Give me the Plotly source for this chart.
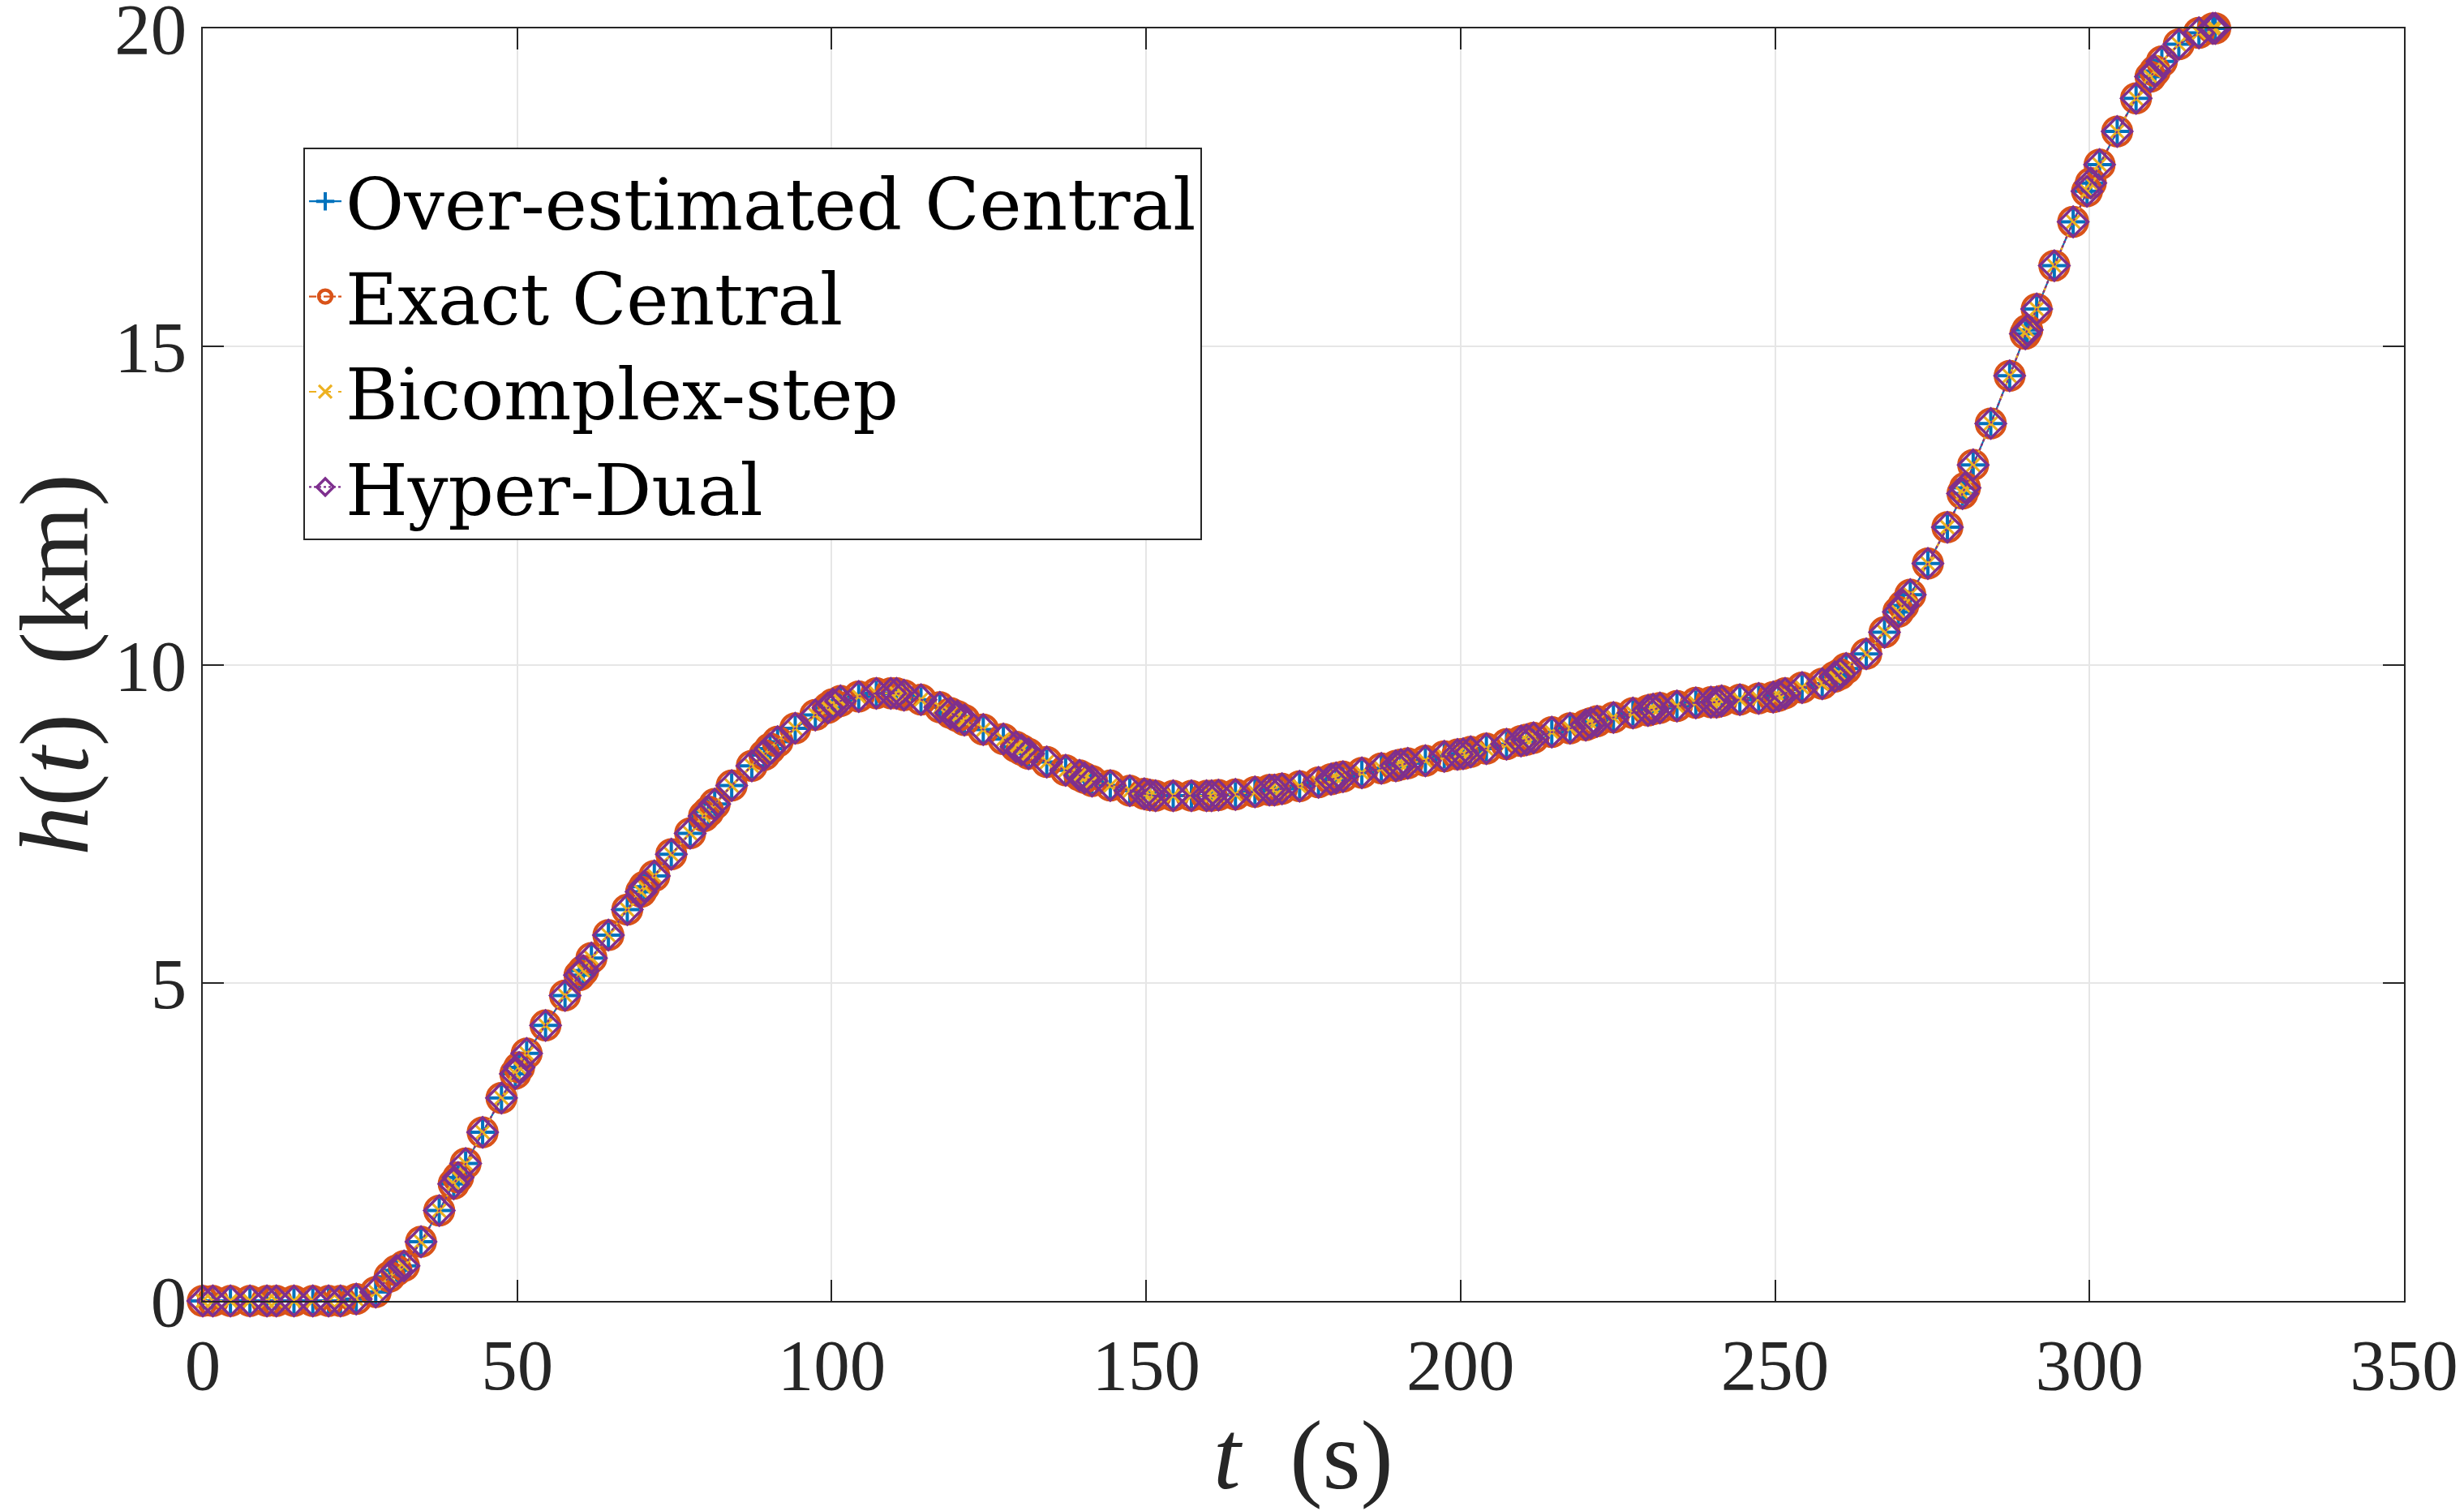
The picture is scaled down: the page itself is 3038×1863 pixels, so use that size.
import plotly.graph_objects as go

t_s = [0, 1.6, 4.4, 7.5, 10.2, 11.7, 14.5, 17.5, 20.0, 21.9,
       24.4, 27.5, 29.7, 30.8, 32.0, 34.7, 37.6, 39.9, 40.6, 41.8,
       44.5, 47.5, 49.7, 50.3, 51.5, 54.5, 57.6, 59.9, 60.5, 61.8,
       64.5, 67.5, 69.7, 70.2, 71.8, 74.5, 77.5, 79.7, 80.4, 81.4,
       84.1, 87.3, 89.3, 90.2, 91.4, 94.2, 97.4, 99.4, 100.2, 101.4,
       104.3, 107.1, 109.4, 110.3, 111.5, 114.2, 117.2, 118.9, 120.0, 121.1,
       124.1, 127.3, 129.3, 130.2, 131.3, 134.2, 137.2, 139.4, 140.2, 141.4,
       144.3, 147.4, 149.7, 150.6, 151.5, 154.3, 157.2, 159.6, 160.4, 161.5,
       164.2, 167.3, 169.6, 170.4, 171.6, 174.4, 177.4, 179.4, 180.2, 181.3,
       184.3, 187.4, 189.7, 190.5, 191.6, 194.4, 197.4, 199.5, 200.4, 201.6,
       204.1, 207.3, 209.6, 210.5, 211.6, 214.5, 217.4, 219.9, 220.7, 221.7,
       224.3, 227.4, 229.8, 230.6, 231.7, 234.4, 237.4, 239.8, 240.7, 241.5,
       244.4, 247.4, 249.7, 250.6, 251.6, 254.3, 257.5, 259.5, 260.3, 261.3,
       264.5, 267.4, 269.6, 270.4, 271.5, 274.3, 277.4, 279.8, 280.2, 281.5,
       284.3, 287.3, 289.8, 290.1, 291.6, 294.4, 297.4, 299.6, 300.2, 301.6,
       304.4, 307.4, 309.7, 310.4, 311.5, 314.2, 317.4, 319.6, 320.0]

h_km = [0, 0, 0, 0, 0, 0, 0, 0, 0, 0,
        0.03, 0.14, 0.38, 0.48, 0.55, 0.93, 1.42, 1.84, 1.94, 2.16,
        2.65, 3.19, 3.57, 3.67, 3.89, 4.33, 4.80, 5.12, 5.19, 5.39,
        5.75, 6.15, 6.43, 6.51, 6.68, 7.02, 7.35, 7.62, 7.69, 7.81,
        8.10, 8.41, 8.58, 8.68, 8.79, 9.00, 9.21, 9.32, 9.38, 9.43,
        9.50, 9.55, 9.55, 9.55, 9.52, 9.45, 9.33, 9.24, 9.19, 9.13,
        8.98, 8.83, 8.71, 8.66, 8.60, 8.47, 8.34, 8.26, 8.22, 8.17,
        8.10, 8.02, 7.97, 7.95, 7.94, 7.94, 7.94, 7.94, 7.94, 7.95,
        7.96, 8.00, 8.03, 8.03, 8.05, 8.09, 8.15, 8.20, 8.22, 8.24,
        8.30, 8.37, 8.41, 8.43, 8.45, 8.49, 8.56, 8.59, 8.60, 8.63,
        8.68, 8.75, 8.80, 8.82, 8.85, 8.94, 9.00, 9.05, 9.08, 9.11,
        9.17, 9.24, 9.28, 9.30, 9.32, 9.35, 9.40, 9.41, 9.41, 9.43,
        9.45, 9.47, 9.49, 9.51, 9.55, 9.64, 9.70, 9.81, 9.85, 9.94,
        10.17, 10.51, 10.83, 10.93, 11.10, 11.59, 12.16, 12.69, 12.78, 13.14,
        13.79, 14.54, 15.20, 15.26, 15.59, 16.27, 16.96, 17.44, 17.57, 17.86,
        18.38, 18.90, 19.24, 19.33, 19.48, 19.75, 19.93, 20.0, 20.0]

series_names = ["Over-estimated Central", "Exact Central", "Bicomplex-step", "Hyper-Dual"]
series_h = [h_km, h_km, h_km, h_km]

x_ticks = [0, 50, 100, 150, 200, 250, 300, 350]
y_ticks = [0, 5, 10, 15, 20]

colors = ["#0072BD", "#D95319", "#EDB120", "#7E2F8E"]
dashes = ["solid", "dashdot", "dash", "dot"]
symbols = ["cross-thin-open", "circle-open", "x-thin-open", "diamond-open"]
msizes = [22, 35, 18, 28]
mwidths = [4, 4.4, 3.2, 3.5]

fig = go.Figure()
for name, hv, c, d, s, ms, mw in zip(series_names, series_h, colors, dashes, symbols, msizes, mwidths):
    fig.add_trace(go.Scatter(
        x=t_s, y=hv, name=name, mode="lines+markers",
        line=dict(color=c, width=2.2, dash=d),
        marker=dict(symbol=s, size=ms, color=c, line=dict(color=c, width=mw)),
        cliponaxis=False,
    ))

axis_common = dict(
    showgrid=True, gridcolor="#e6e6e6", gridwidth=1.5,
    showline=True, linecolor="#262626", linewidth=2, mirror="ticks",
    ticks="inside", ticklen=26, tickwidth=2, tickcolor="#262626",
    tickfont=dict(family="Liberation Serif", size=89, color="#262626"),
    ticklabeloverflow="allow",
    automargin=False,
    zeroline=False,
)

title_font = dict(family="Liberation Serif", size=121, color="#262626")

fig.update_layout(
    width=3038, height=1863,
    margin=dict(l=250, r=74, t=35, b=259),
    paper_bgcolor="white", plot_bgcolor="white",
    xaxis=dict(range=[0, 350], tickvals=x_ticks, ticktext=[str(v) for v in x_ticks],
               title=dict(text="<i>t</i>&nbsp; (s)", font=title_font, standoff=20),
               **axis_common),
    yaxis=dict(range=[0, 20], tickvals=y_ticks, ticktext=[str(v) for v in y_ticks],
               title=dict(text="<i>h</i>(<i>t</i>)&nbsp; (km)", font=title_font, standoff=30),
               **axis_common),
    legend=dict(x=0.0457, y=0.906, xanchor="left", yanchor="top",
                bgcolor="white", bordercolor="#262626", borderwidth=2,
                font=dict(family="DejaVu Serif", size=88, color="black"),
                itemwidth=40),
    showlegend=True,
)

fig.write_html("out.html")
